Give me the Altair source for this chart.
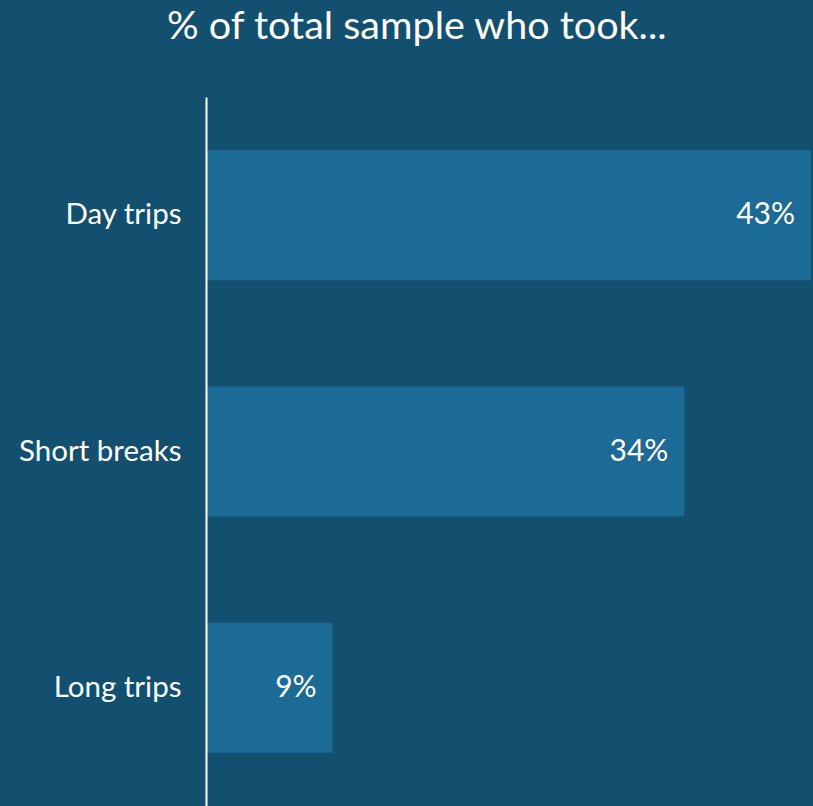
import altair as alt
import pandas as pd

categories = ["Day trips", "Short breaks", "Long trips"]
values = [43, 34, 9]
labels = ["43%", "34%", "9%"]

df = pd.DataFrame({"cat": categories, "val": values, "lab": labels})

FONT = "Lato"
BG = "#134f6e"
BAR = "#1c6a96"

y_enc = alt.Y("cat:N", sort=categories,
              scale=alt.Scale(paddingInner=0.45, paddingOuter=0.225),
              axis=alt.Axis(title=None, ticks=False, grid=False, domain=True,
                            domainColor="white", domainWidth=2, zindex=1,
                            labelColor="white", labelFont=FONT, labelFontSize=29.5,
                            labelPadding=25))
x_enc = alt.X("val:Q", scale=alt.Scale(domain=[0, 43], nice=False, zero=True),
              axis=None)

bars = alt.Chart(df).mark_bar(color=BAR).encode(x=x_enc, y=y_enc)
text = alt.Chart(df).mark_text(align="right", baseline="middle", dx=-16,
                               color="white", font=FONT, fontSize=30).encode(
    x=x_enc, y=alt.Y("cat:N", sort=categories), text="lab:N")

chart = (bars + text).properties(
    width=605, height=709,
    background=BG,
    padding={"left": 206, "top": 97, "right": 2, "bottom": 0},
    autosize=alt.AutoSizeParams(type="none"),
    title=alt.TitleParams("% of total sample who took...", anchor="middle",
                          frame="bounds", font=FONT, fontSize=39.5,
                          fontWeight="normal", color="white",
                          baseline="alphabetic", offset=19, dx=2),
).configure_view(stroke=None)

chart.save("out.html", embed_options={"renderer": "svg", "actions": False})
